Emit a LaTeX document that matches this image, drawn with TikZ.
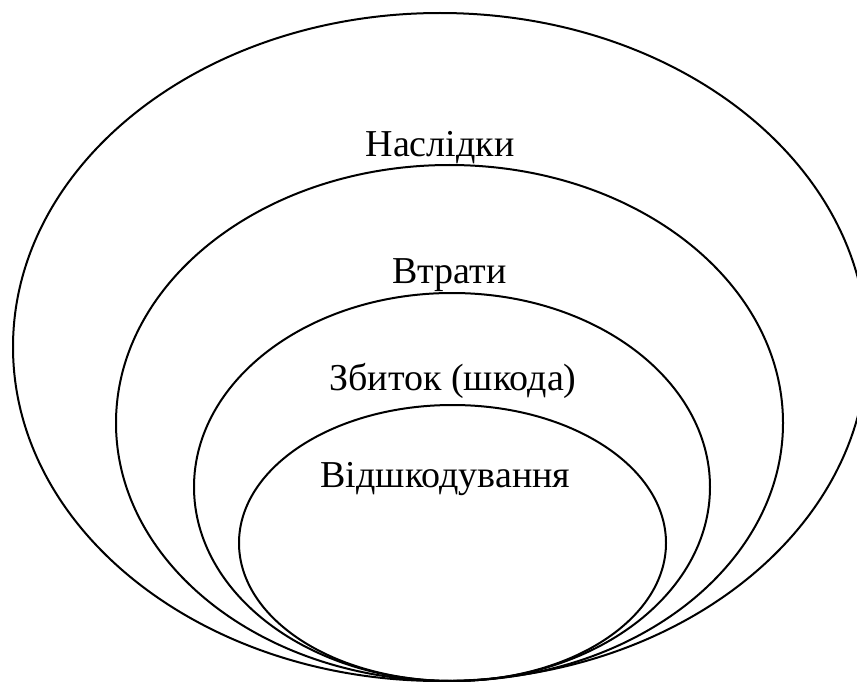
\documentclass[tikz,border=0pt]{standalone}
\usepackage{fontspec}
\setmainfont{Liberation Serif}
\begin{document}
\begin{tikzpicture}[x=1pt,y=-1pt,
  ring/.style={draw=black,line width=2pt},
  lbl/.style={anchor=base,inner sep=0pt,font=\fontsize{38}{42}\selectfont}]
\useasboundingbox (0,0) rectangle (857,682);
\draw[ring] (440,347) ellipse [x radius=427, y radius=334];
\draw[ring] (449.5,423) ellipse [x radius=333.5, y radius=258];
\draw[ring] (452,487) ellipse [x radius=258, y radius=194];
\draw[ring] (452.5,543) ellipse [x radius=213.5, y radius=138];
\node[lbl] (n1) at (440,157) {Наслідки};
\node[lbl] (n2) at (449.5,283) {Втрати};
\node[lbl] (n3) at (453,390) {Збиток (шкода)};
\node[lbl] (n4) at (445.5,487) {Відшкодування};
\end{tikzpicture}
\end{document}
